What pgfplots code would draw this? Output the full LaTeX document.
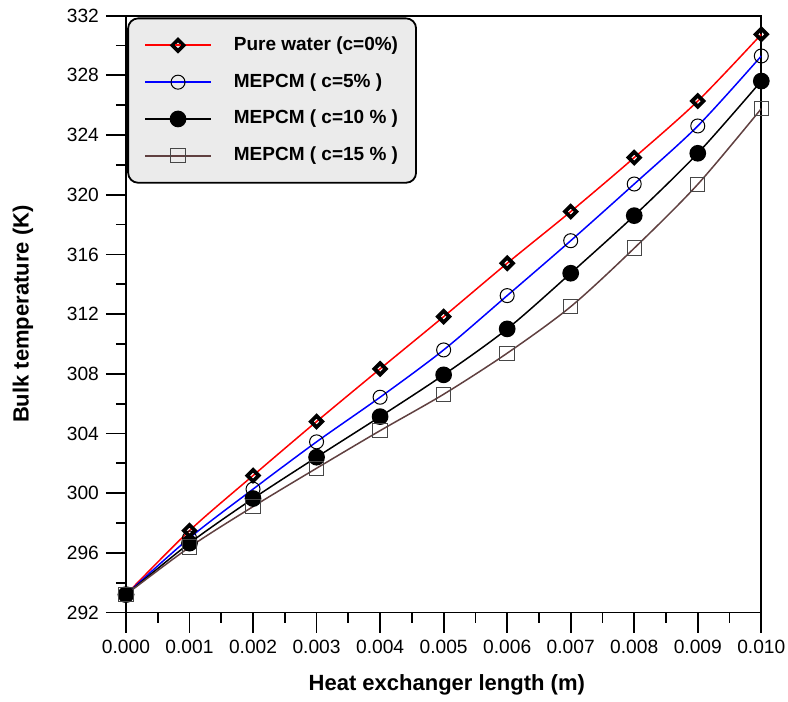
\documentclass[border=0pt]{standalone}
\usepackage{pgfplots}
\pgfplotsset{compat=1.18}
\usepackage{fontspec}
\setmainfont{Liberation Sans}
\definecolor{brownline}{RGB}{96,64,64}
\definecolor{sqgray}{RGB}{70,70,70}
\definecolor{pureRed}{RGB}{255,0,0}
\begin{document}
\begin{tikzpicture}
\begin{axis}[
  name=ax,
  scale only axis,
  width=317.75pt, height=298.5pt,
  xmin=0, xmax=0.01, ymin=292, ymax=332,
  xtick={0,0.001,0.002,0.003,0.004,0.005,0.006,0.007,0.008,0.009,0.01},
  ytick={292,296,300,304,308,312,316,320,324,328,332},
  minor x tick num=1, minor y tick num=1,
  tick align=outside,
  xtick pos=bottom, ytick pos=left,
  major tick length=10pt, minor tick length=5pt,
  every tick/.style={black, line width=0.9pt},
  axis line style={line width=0.9pt},
  scaled x ticks=false,
  xticklabel style={/pgf/number format/fixed, /pgf/number format/precision=3, /pgf/number format/fixed zerofill},
  /pgf/number format/assume math mode=true,
  tick label style={font=\fontsize{9.6}{11}\selectfont},
  xlabel={\textbf{Heat exchanger length (m)}},
  ylabel={\textbf{Bulk temperature (K)}},
  every axis x label/.style={at={(axis description cs:0.505,-0.1211)}, anchor=center, font=\fontsize{11}{13}\selectfont},
  every axis y label/.style={at={(axis description cs:-0.1621,0.5)}, rotate=90, anchor=center, font=\fontsize{11}{13}\selectfont},
  legend style={at={(axis description cs:0.002,0.997)}, anchor=north west, draw=black, line width=0.9pt,
    rounded corners=5pt, fill=black!8, inner xsep=8pt, inner ysep=8pt,
    font=\bfseries\fontsize{9.5}{11}\selectfont, row sep=7.4pt,
    nodes={inner sep=1pt, text height=7pt, text depth=2pt}},
  legend cell align=left,
  /tikz/every odd column/.append style={column sep=10pt},
]
\addplot[pureRed, line width=0.75pt, smooth, mark=square, mark size=2.0pt,
  mark options={rotate=45, draw=black, line width=1.9pt, fill=none},
  legend image code/.code={%
    \draw[draw=pureRed, line width=0.9pt] (0pt,0pt) -- (13pt,0pt);
    \draw[draw=pureRed, line width=0.9pt] (20pt,0pt) -- (33pt,0pt);
    \draw[black, line width=1.9pt, mark=square, mark size=2.0pt, mark options={rotate=45, draw=black, fill=none}] plot coordinates {(16.5pt,0pt)};
    \draw[draw=pureRed, line width=0.9pt] (15pt,0pt) -- (18pt,0pt);}
  ] coordinates {
(0,293.2) (0.001,297.49) (0.002,301.18) (0.003,304.80) (0.004,308.33) (0.005,311.83)
(0.006,315.41) (0.007,318.87) (0.008,322.49) (0.009,326.28) (0.010,330.75)};
\addlegendentry{Pure water (c=0\%)}
\addplot[blue, line width=0.75pt, smooth, mark=o, mark size=3.5pt,
  mark options={draw=black, line width=0.5pt, fill=none},
  legend image code/.code={%
    \draw[blue, line width=0.75pt] (0pt,0pt) -- (33pt,0pt);
    \draw[black, line width=0.5pt, mark=o, mark size=3.5pt] plot coordinates {(16.5pt,0pt)};}
  ] coordinates {
(0,293.2) (0.001,297.0) (0.002,300.27) (0.003,303.44) (0.004,306.43) (0.005,309.60)
(0.006,313.24) (0.007,316.92) (0.008,320.72) (0.009,324.61) (0.010,329.30)};
\addlegendentry{MEPCM ( c=5\% )}
\addplot[black, line width=0.75pt, smooth, mark=*, mark size=3.8pt,
  mark options={draw=black, fill=black},
  legend image code/.code={%
    \draw[black, line width=0.75pt] (0pt,0pt) -- (33pt,0pt);
    \draw[black, fill=black, mark=*, mark size=3.8pt] plot coordinates {(16.5pt,0pt)};}
  ] coordinates {
(0,293.2) (0.001,296.65) (0.002,299.64) (0.003,302.41) (0.004,305.13) (0.005,307.93)
(0.006,311.01) (0.007,314.74) (0.008,318.60) (0.009,322.78) (0.010,327.62)};
\addlegendentry{MEPCM ( c=10 \% )}
\addplot[brownline, line width=0.75pt, smooth, mark=square, mark size=3.6pt,
  mark options={draw=sqgray, line width=0.5pt, fill=none},
  legend image code/.code={%
    \draw[brownline, line width=0.75pt] (0pt,0pt) -- (33pt,0pt);
    \draw[sqgray, line width=0.5pt, mark=square, mark size=3.6pt] plot coordinates {(16.5pt,0pt)};}
  ] coordinates {
(0,293.2) (0.001,296.38) (0.002,299.10) (0.003,301.67) (0.004,304.19) (0.005,306.63)
(0.006,309.38) (0.007,312.50) (0.008,316.42) (0.009,320.70) (0.010,325.77)};
\addlegendentry{MEPCM ( c=15 \% )}
\end{axis}
\pgfresetboundingbox
\path[use as bounding box] ([xshift=-63pt,yshift=-44.65pt]ax.south west) rectangle ([xshift=13.35pt,yshift=7.85pt]ax.north east);
\end{tikzpicture}
\end{document}
